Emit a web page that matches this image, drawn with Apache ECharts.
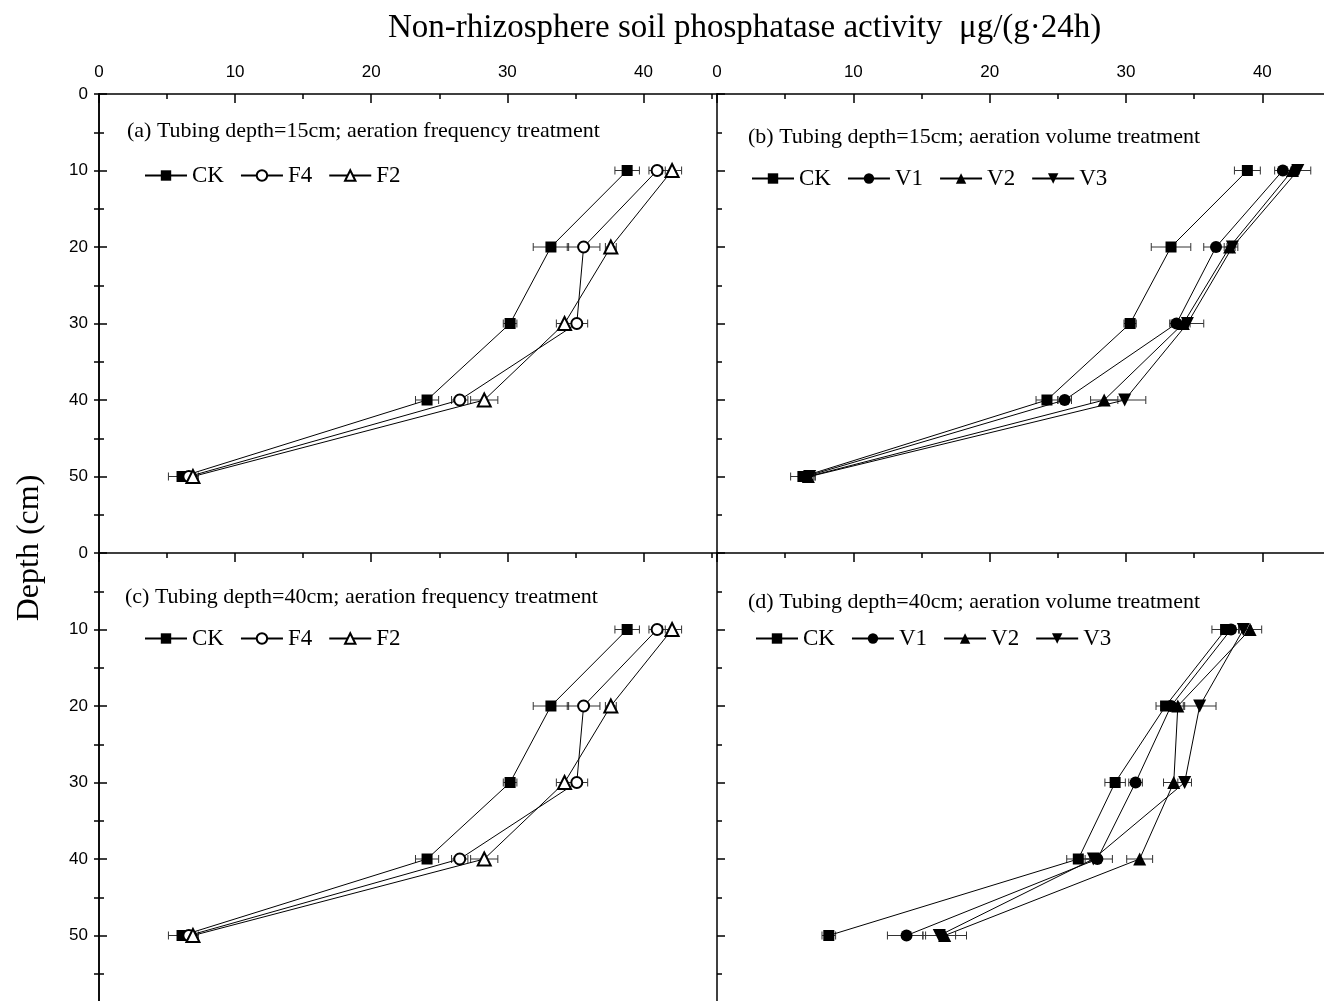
<!DOCTYPE html>
<html lang="en">
<head>
    <meta charset="UTF-8">
    <title>phosphatase</title>
    <style>
        html, body { margin: 0; padding: 0; background: #fff; }
    </style>
    <script src="https://cdn.jsdelivr.net/npm/echarts@6/dist/echarts.min.js"></script>
</head>
<body>
    <div id="main" style="width:1324px;height:1001px"></div>
    <script>
        // depth of each sampling layer (cm)
        var depth = [10, 20, 30, 40, 50];
        var xTicks = [0, 10, 20, 30, 40];

        // (a) tubing 15cm, aeration frequency
        var aCK = [38.8, 33.2, 30.2, 24.1, 6.1];
        var aCKErr = [0.9, 1.3, 0.5, 0.85, 1.0];
        var aF4 = [41.0, 35.6, 35.1, 26.5, 6.6];
        var aF4Err = [0.6, 1.2, 0.8, 0.6, 0.5];
        var aF2 = [42.1, 37.6, 34.2, 28.3, 6.9];
        var aF2Err = [0.7, 0.4, 0.6, 1.0, 0.4];

        // (b) tubing 15cm, aeration volume
        var bCK = [38.9, 33.3, 30.3, 24.2, 6.3];
        var bCKErr = [0.95, 1.45, 0.45, 0.8, 0.9];
        var bV1 = [41.5, 36.6, 33.7, 25.5, 6.5];
        var bV1Err = [0.6, 0.9, 0.5, 0.5, 0.4];
        var bV2 = [42.2, 37.6, 34.2, 28.4, 6.7];
        var bV2Err = [0.5, 0.4, 0.5, 1.0, 0.4];
        var bV3 = [42.6, 37.8, 34.5, 29.9, 6.8];
        var bV3Err = [0.95, 0.4, 1.2, 1.55, 0.4];

        // (c) tubing 40cm, aeration frequency
        var cCK = [38.8, 33.2, 30.2, 24.1, 6.1];
        var cCKErr = [0.9, 1.3, 0.5, 0.85, 1.0];
        var cF4 = [41.0, 35.6, 35.1, 26.5, 6.6];
        var cF4Err = [0.6, 1.2, 0.8, 0.6, 0.5];
        var cF2 = [42.1, 37.6, 34.2, 28.3, 6.9];
        var cF2Err = [0.7, 0.4, 0.6, 1.0, 0.4];

        // (d) tubing 40cm, aeration volume
        var dCK = [37.3, 32.9, 29.2, 26.5, 8.2];
        var dCKErr = [1.0, 0.7, 0.75, 0.85, 0.5];
        var dV1 = [37.7, 33.3, 30.7, 27.9, 13.9];
        var dV1Err = [0.6, 0.6, 0.5, 1.1, 1.4];
        var dV2 = [39.1, 33.8, 33.5, 31.0, 16.7];
        var dV2Err = [0.85, 0.5, 0.75, 0.95, 1.6];
        var dV3 = [38.6, 35.4, 34.3, 27.6, 16.3];
        var dV3Err = [0.6, 1.2, 0.5, 0.6, 1.2];

        var marks = {
            CK: { symbol: 'rect', size: 11, rotate: 0 },
            F4: { symbol: 'emptyCircle', size: 11, rotate: 0 },
            F2: { symbol: 'emptyTriangle', size: 13, rotate: 0 },
            V1: { symbol: 'circle', size: 12, rotate: 0 },
            V2: { symbol: 'triangle', size: 13, rotate: 0 },
            V3: { symbol: 'triangle', size: 13, rotate: 180 }
        };

        var serif = 'Liberation Serif';
        var sans = 'Liberation Sans';

        var myChart = echarts.init(document.getElementById('main'));

        function errBar(params, api) {
            var x = api.value(0), y = api.value(1), e = api.value(2);
            var p0 = api.coord([x - e, y]);
            var p1 = api.coord([x + e, y]);
            var h = 4;
            var st = { stroke: '#333', lineWidth: 1 };
            return {
                type: 'group',
                children: [
                    { type: 'line', shape: { x1: p0[0], y1: p0[1], x2: p1[0], y2: p1[1] }, style: st },
                    { type: 'line', shape: { x1: p0[0], y1: p0[1] - h, x2: p0[0], y2: p0[1] + h }, style: st },
                    { type: 'line', shape: { x1: p1[0], y1: p1[1] - h, x2: p1[0], y2: p1[1] + h }, style: st }
                ]
            };
        }

        var series = [];
        function addSeries(name, vals, errs, g) {
            var m = marks[name];
            var empty = m.symbol.indexOf('empty') === 0;
            series.push({
                type: 'custom',
                name: name + '_err',
                xAxisIndex: 2 * g,
                yAxisIndex: 2 * g,
                renderItem: errBar,
                encode: { x: 0, y: 1 },
                z: 1,
                silent: true,
                data: depth.map(function (d, i) { return [vals[i], d, errs[i]]; })
            });
            series.push({
                type: 'line',
                name: name,
                xAxisIndex: 2 * g,
                yAxisIndex: 2 * g,
                symbol: m.symbol,
                symbolSize: m.size,
                symbolRotate: m.rotate,
                showAllSymbol: true,
                z: 3,
                lineStyle: { color: '#000', width: 1 },
                itemStyle: { color: '#000', borderWidth: empty ? 1 : 0, borderColor: '#000' },
                emphasis: { disabled: true },
                animation: false,
                data: depth.map(function (d, i) { return [vals[i], d]; })
            });
        }

        addSeries('CK', aCK, aCKErr, 0);
        addSeries('F4', aF4, aF4Err, 0);
        addSeries('F2', aF2, aF2Err, 0);
        addSeries('CK', bCK, bCKErr, 1);
        addSeries('V1', bV1, bV1Err, 1);
        addSeries('V2', bV2, bV2Err, 1);
        addSeries('V3', bV3, bV3Err, 1);
        addSeries('CK', cCK, cCKErr, 2);
        addSeries('F4', cF4, cF4Err, 2);
        addSeries('F2', cF2, cF2Err, 2);
        addSeries('CK', dCK, dCKErr, 3);
        addSeries('V1', dV1, dV1Err, 3);
        addSeries('V2', dV2, dV2Err, 3);
        addSeries('V3', dV3, dV3Err, 3);

        var grids = [
            { left: 99, top: 94, width: 618, height: 459, outerBoundsMode: 'none' },
            { left: 717, top: 94, width: 619, height: 459, outerBoundsMode: 'none' },
            { left: 99, top: 553, width: 618, height: 459, outerBoundsMode: 'none' },
            { left: 717, top: 553, width: 619, height: 459, outerBoundsMode: 'none' }
        ];

        var axisLine = { show: true, lineStyle: { color: '#000', width: 1.5 } };
        var xAxes = [], yAxes = [];
        grids.forEach(function (g, i) {
            var upper = i < 2, leftSide = i % 2 === 0;
            xAxes.push({
                gridIndex: i, type: 'value', position: 'top',
                min: 0, max: 45.4, interval: 10,
                axisLine: axisLine,
                axisTick: { show: true, inside: true, length: 9, lineStyle: { color: '#000', width: 1.5 } },
                axisLabel: {
                    show: upper, showMaxLabel: false, margin: 13,
                    fontFamily: sans, fontSize: 17, color: '#000',
                    formatter: function (v) { return xTicks.indexOf(v) >= 0 ? String(v) : ''; }
                },
                splitLine: { show: false }
            });
            xAxes.push({
                gridIndex: i, type: 'value', position: 'top',
                min: 0, max: 45.4, interval: 5,
                axisLine: { show: false },
                axisTick: { show: true, inside: true, length: 5, lineStyle: { color: '#000', width: 1.5 } },
                axisLabel: { show: false },
                splitLine: { show: false }
            });
            yAxes.push({
                gridIndex: i, type: 'value', position: 'left', inverse: true,
                min: 0, max: 60, interval: 10,
                axisLine: axisLine,
                axisTick: { show: true, inside: true, length: 8, lineStyle: { color: '#000', width: 1.5 } },
                minorTick: { show: true, splitNumber: 2, length: 5, lineStyle: { color: '#000', width: 1.5 } },
                axisLabel: {
                    show: leftSide, showMaxLabel: false, margin: 11,
                    fontFamily: sans, fontSize: 17, color: '#000'
                },
                splitLine: { show: false }
            });
            yAxes.push({
                gridIndex: i, type: 'value', position: 'right', inverse: true,
                min: 0, max: 60, interval: 5,
                axisLine: { show: leftSide, lineStyle: { color: '#000', width: 1.5 } },
                axisTick: { show: leftSide, inside: true, length: 5, lineStyle: { color: '#000', width: 1.5 } },
                axisLabel: { show: false },
                splitLine: { show: false }
            });
        });

        function legendAt(names, left, top) {
            return {
                data: names, left: left, top: top, orient: 'horizontal',
                itemWidth: 42, itemHeight: 13, itemGap: 16,
                selectedMode: false,
                textStyle: { fontFamily: serif, fontSize: 23, color: '#000', padding: [0, 0, 0, 0] }
            };
        }

        function label(text, x, y, size) {
            return {
                type: 'text', x: x, y: y, silent: true,
                style: { text: text, fill: '#000', font: size + 'px "' + serif + '"', textVerticalAlign: 'middle' }
            };
        }

        var option = {
            backgroundColor: '#fff',
            animation: false,
            grid: grids,
            xAxis: xAxes,
            yAxis: yAxes,
            legend: [
                legendAt(['CK', 'F4', 'F2'], 139, 159),
                legendAt(['CK', 'V1', 'V2', 'V3'], 746, 162),
                legendAt(['CK', 'F4', 'F2'], 139, 622),
                legendAt(['CK', 'V1', 'V2', 'V3'], 750, 622)
            ],
            graphic: [
                label('Non-rhizosphere soil phosphatase activity  \u03bcg/(g\u00b724h)', 388, 28, 33),
                {
                    type: 'text', x: 30, y: 548, rotation: Math.PI / 2, silent: true,
                    style: { text: 'Depth (cm)', fill: '#000', font: '32px "' + serif + '"', textAlign: 'center', textVerticalAlign: 'middle' }
                },
                label('(a) Tubing depth=15cm; aeration frequency treatment', 127, 131, 22),
                label('(b) Tubing depth=15cm; aeration volume treatment', 748, 137, 22),
                label('(c) Tubing depth=40cm; aeration frequency treatment', 125, 597, 22),
                label('(d) Tubing depth=40cm; aeration volume treatment', 748, 602, 22)
            ],
            series: series
        };
        myChart.setOption(option);
    </script>
</body>
</html>
